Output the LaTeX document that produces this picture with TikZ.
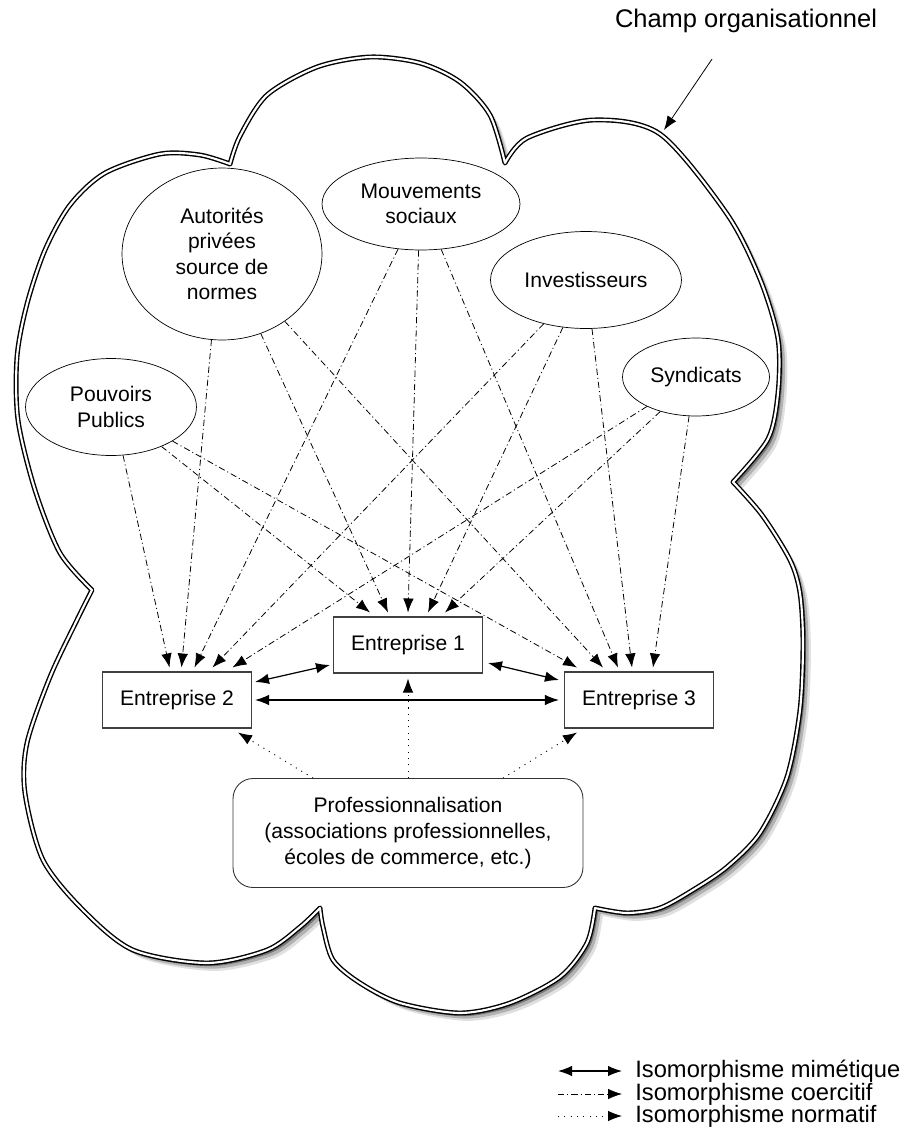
\documentclass[tikz,border=0pt]{standalone}
\usepackage{fontspec}
\setmainfont{Liberation Sans}
\usetikzlibrary{positioning, arrows.meta, shapes.geometric}
\tikzset{
  ellipse1/.style = {
    shape = ellipse,
    draw = black,
    line width = 0.4pt,
    inner sep = 0pt,
    align = center,
    font = \fontsize{12}{14.5}\selectfont,
  }
}
\tikzset{
  rect1/.style = {
    shape = rectangle,
    draw = black!75,
    line width = 0.6pt,
    align = center,
    minimum width = 2.98cm,
    minimum height = 1.12cm,
    font = \fontsize{12}{14.5}\selectfont,
  }
}
\tikzset{
  rect2/.style = {
    shape = rectangle,
    draw = black!80,
    line width = 0.5pt,
    rounded corners = 4mm,
    align = center,
    minimum width = 7cm,
    minimum height = 2.18cm,
    font = \fontsize{12}{15}\selectfont,
  }
}
\tikzset{
  cloud1/.style = {
    draw = black, fill = white,
    line width = 0.8pt, double = white, double distance = 1.2pt,
    line join = round,
  }
}
\tikzset{
  arrow1/.style = {
    draw = black, line width = 0.45pt,
    dash pattern = on 3.6pt off 1.7pt on 0.6pt off 1.7pt,
    -{Latex[length = 2.8mm, width = 2.1mm]},
  }
}
\tikzset{
  arrow2/.style = {
    draw = black, line width = 0.7pt,
    {Latex[length = 2.8mm, width = 2.1mm]}-{Latex[length = 2.8mm, width = 2.1mm]},
  }
}
\tikzset{
  arrow3/.style = {
    draw = black, line width = 0.5pt,
    dash pattern = on 0.6pt off 3pt,
    -{Latex[length = 2.8mm, width = 2.1mm]},
  }
}
\tikzset{
  arrow4/.style = {
    draw = black, line width = 0.45pt, -{Latex[length = 2.8mm, width = 2.1mm]},
  }
}
\newcommand{\nuage}{
  plot[smooth] coordinates {(92,590) (60,553) (35,490) (18,420) (17,357) (27,304) (45,250) (70,205) (105,173) (160,154) (200,155) (230,164)}
  -- plot[smooth] coordinates {(230,164) (240,136) (267,95) (317,67) (370,57) (420,63) (460,82) (490,115) (505,163)}
  -- plot[smooth] coordinates {(505,163) (527,138) (593,120) (660,134) (727,214) (760,279) (778,339) (778,393) (768,439) (733,482)}
  -- plot[smooth] coordinates {(733,482) (762,515) (790,560) (800,593) (803,643) (800,710) (787,777) (760,833) (727,867) (693,890) (660,908) (627,913) (595,908)}
  -- plot[smooth] coordinates {(595,908) (587,943) (560,977) (510,1003) (460,1013) (400,1003) (360,983) (333,960) (323,927) (320,908)}
  -- plot[smooth] coordinates {(320,908) (300,927) (267,950) (207,963) (133,950) (83,910) (43,860) (25,793) (27,743) (50,677) (77,620) (92,590)}
  -- cycle}

\begin{document}
\begin{tikzpicture}[x = 0.02cm, y = -0.02cm]
        \useasboundingbox (0,0) rectangle (920,1133);
        % champ organisationnel (ombre puis contour)
        \fill[black!12, shift = {(4.5pt,-4.5pt)}] \nuage;
        \fill[black!30, shift = {(3.2pt,-3.2pt)}] \nuage;
        \fill[black!55, shift = {(1.8pt,-1.8pt)}] \nuage;
        \draw[cloud1] \nuage;

        \node[font = \fontsize{14.5}{17}\selectfont](titre) at (746,21){Champ organisationnel};
        \coordinate (bord) at (664,130);
        \draw[arrow4]([xshift = -0.68cm, yshift = -0.4cm]titre.south) -- (bord);

        % sources
        \node[ellipse1, minimum width = 3.42cm, minimum height = 1.94cm](pp) at (111,407){Pouvoirs\\Publics};
        \node[ellipse1, minimum width = 4cm, minimum height = 3.44cm](au) at (222,254){Autorités\\privées\\source de\\normes};
        \node[ellipse1, minimum width = 3.96cm, minimum height = 1.84cm](ms) at (421,204){Mouvements\\sociaux};
        \node[ellipse1, minimum width = 3.82cm, minimum height = 1.94cm](inv) at (586,280){Investisseurs};
        \node[ellipse1, minimum width = 2.94cm, minimum height = 1.56cm](syn) at (696,377){Syndicats};

        % entreprises
        \node[rect1](e1) at (408,645){Entreprise 1};
        \node[rect1](e2) at (177,700){Entreprise 2};
        \node[rect1](e3) at (639,700){Entreprise 3};
        \node[rect2](prof) at (408,833){Professionnalisation\\(associations professionnelles,\\écoles de commerce, etc.)};

        % isomorphisme coercitif
        \draw[arrow1](pp.-76) -- ([xshift = -0.15cm, yshift = 0.08cm]e2.north);
        \draw[arrow1](pp.-38) -- ([xshift = -0.76cm, yshift = 0.08cm]e1.north);
        \draw[arrow1](pp.-29) -- ([xshift = -1.24cm, yshift = 0.08cm]e3.north);
        \draw[arrow1](au.-97) -- ([xshift = 0.09cm, yshift = 0.08cm]e2.north);
        \draw[arrow1](au.-64) -- ([xshift = -0.40cm, yshift = 0.08cm]e1.north);
        \draw[arrow1](au.-47) -- ([xshift = -0.72cm, yshift = 0.08cm]e3.north);
        \draw[arrow1](ms.-117) -- ([xshift = 0.35cm, yshift = 0.08cm]e2.north);
        \draw[arrow1](ms.-93) -- ([yshift = 0.08cm]e1.north);
        \draw[arrow1](ms.-66) -- ([xshift = -0.42cm, yshift = 0.08cm]e3.north);
        \draw[arrow1](inv.-134) -- ([xshift = 0.71cm, yshift = 0.08cm]e2.north);
        \draw[arrow1](inv.-116) -- ([xshift = 0.40cm, yshift = 0.08cm]e1.north);
        \draw[arrow1](inv.-83) -- ([xshift = -0.14cm, yshift = 0.08cm]e3.north);
        \draw[arrow1](syn.-149) -- ([xshift = 1.11cm, yshift = 0.08cm]e2.north);
        \draw[arrow1](syn.-136) -- ([xshift = 0.74cm, yshift = 0.08cm]e1.north);
        \draw[arrow1](syn.-100) -- ([xshift = 0.28cm, yshift = 0.08cm]e3.north);

        % isomorphisme mimetique
        \draw[arrow2]([xshift = 0.06cm, yshift = 0.36cm]e2.east) -- ([xshift = -0.06cm, yshift = -0.40cm]e1.west);
        \draw[arrow2]([xshift = 0.10cm, yshift = -0.36cm]e1.east) -- ([xshift = -0.10cm, yshift = 0.40cm]e3.west);
        \draw[arrow2, shorten <= 0.06cm, shorten >= 0.1cm](e2.east) -- (e3.west);

        % isomorphisme normatif
        \draw[arrow3](prof.north) -- ([yshift = -0.1cm]e1.south);
        \draw[arrow3]([xshift = -1.9cm]prof.north) -- ([xshift = -0.28cm, yshift = -0.08cm]e2.south east);
        \draw[arrow3]([xshift = 1.9cm]prof.north) -- ([xshift = 0.26cm, yshift = -0.08cm]e3.south west);

        % legende
        \node[anchor = west, inner sep = 0pt, font = \fontsize{13.5}{16}\selectfont](leg1) at (635,1071){Isomorphisme mimétique};
        \node[anchor = west, inner sep = 0pt, font = \fontsize{13.5}{16}\selectfont](leg2) at (635,1094){Isomorphisme coercitif};
        \node[anchor = west, inner sep = 0pt, font = \fontsize{13.5}{16}\selectfont](leg3) at (635,1116){Isomorphisme normatif};
        \coordinate (l1) at (558,1071);
        \coordinate (l2) at (558,1094);
        \coordinate (l3) at (558,1116);
        \draw[arrow2, shorten >= 0.26cm](l1) -- (leg1.west);
        \draw[arrow1, shorten >= 0.26cm](l2) -- (leg2.west);
        \draw[arrow3, shorten >= 0.26cm](l3) -- (leg3.west);
    \end{tikzpicture}
\end{document}
